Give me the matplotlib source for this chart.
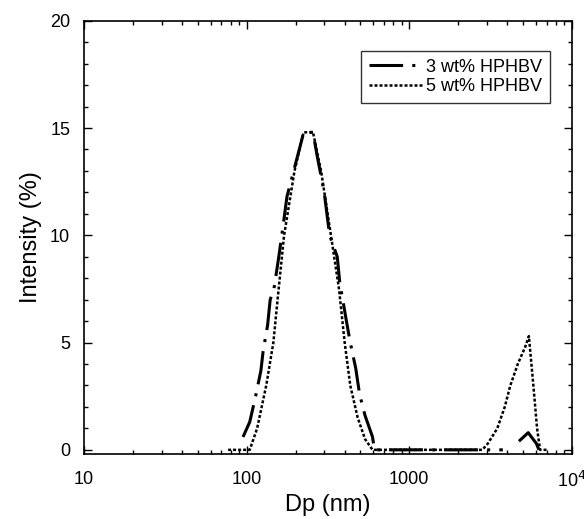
import numpy as np
import matplotlib.pyplot as plt
from matplotlib.ticker import MultipleLocator, LogLocator, FixedLocator, FixedFormatter

plt.rcParams['font.family'] = ['Liberation Sans', 'DejaVu Sans']

# 3 wt% HPHBV
dp_3 = [95.0, 104.5, 113.6, 122.4, 126.3, 134.5, 139.6, 147.2, 157.7, 168, 177, 191.6,
        207.4, 224.5, 256, 270, 300, 324, 361, 374, 411, 434, 469, 495, 535, 595, 611,
        3767, np.nan, 4732, 5397, 6053, 6285]
int_3 = [0.6, 1.3, 2.5, 3.7, 4.6, 5.8, 7.0, 7.5, 9.0, 10.5, 11.8, 12.8,
         13.8, 14.8, 14.8, 13.8, 12.0, 10.0, 9.0, 7.8, 6.0, 5.0, 3.8, 2.6, 1.6, 0.6, 0.0,
         0.0, np.nan, 0.4, 0.8, 0.3, 0.0]

# 5 wt% HPHBV
dp_5 = [76.9, 104.5, 116, 132, 146, 155, 170, 197, 224, 256, 287, 330, 370, 401, 434,
        482, 535, 595, 2818, 3052, 3483, 3872, 4190, 4657, 5174, 5449, 5806, 6121,
        6384, 7098]
int_5 = [0.0, 0.0, 1.0, 3.0, 5.0, 7.0, 10.0, 13.0, 14.8, 14.8, 13.0, 10.0, 7.5, 5.0, 3.0,
         1.5, 0.5, 0.0, 0.0, 0.3, 1.0, 2.0, 3.0, 4.0, 4.8, 5.3, 3.0, 1.0,
         0.0, 0.0]

fig = plt.figure(figsize=(5.84, 5.19), dpi=100)
ax = fig.add_axes([0.144, 0.125, 0.835, 0.835])

ax.plot(dp_3, int_3, color='black', lw=2.2, linestyle=(0, (11, 3, 1, 3)),
        label='3 wt% HPHBV')
ax.plot(dp_5, int_5, color='black', lw=1.8, linestyle=(0, (1.2, 0.8)),
        label='5 wt% HPHBV')

ax.set_xscale('log')
ax.set_xlim(10, 1e4)
ax.set_ylim(-0.2, 20)
ax.xaxis.set_major_locator(FixedLocator([10, 100, 1000, 10000]))
ax.xaxis.set_major_formatter(FixedFormatter(['10', '100', '1000', '10$^4$']))
ax.xaxis.set_minor_locator(LogLocator(base=10, subs=np.arange(2, 10)))
ax.xaxis.set_minor_formatter(FixedFormatter([]))
ax.yaxis.set_major_locator(MultipleLocator(5))
ax.yaxis.set_minor_locator(MultipleLocator(1))

ax.tick_params(which='both', direction='in', top=True, right=True, labelsize=13,
               colors='black', width=1)
ax.tick_params(which='major', length=6)
ax.tick_params(axis='x', which='major', pad=12)
ax.tick_params(axis='y', which='major', pad=10)
ax.tick_params(which='minor', length=3)
for s in ax.spines.values():
    s.set_linewidth(1.2)

ax.set_xlabel('Dp (nm)', fontsize=17, labelpad=2)
ax.set_ylabel('Intensity (%)', fontsize=17, labelpad=6)

leg = ax.legend(loc='upper right', fontsize=13, frameon=True, fancybox=False,
                edgecolor='black', handlelength=3.0, handletextpad=0.2,
                borderpad=0.4, labelspacing=0.15, bbox_to_anchor=(0.973, 0.95))
leg.get_frame().set_linewidth(1.0)

fig.savefig('out.png', dpi=100)
